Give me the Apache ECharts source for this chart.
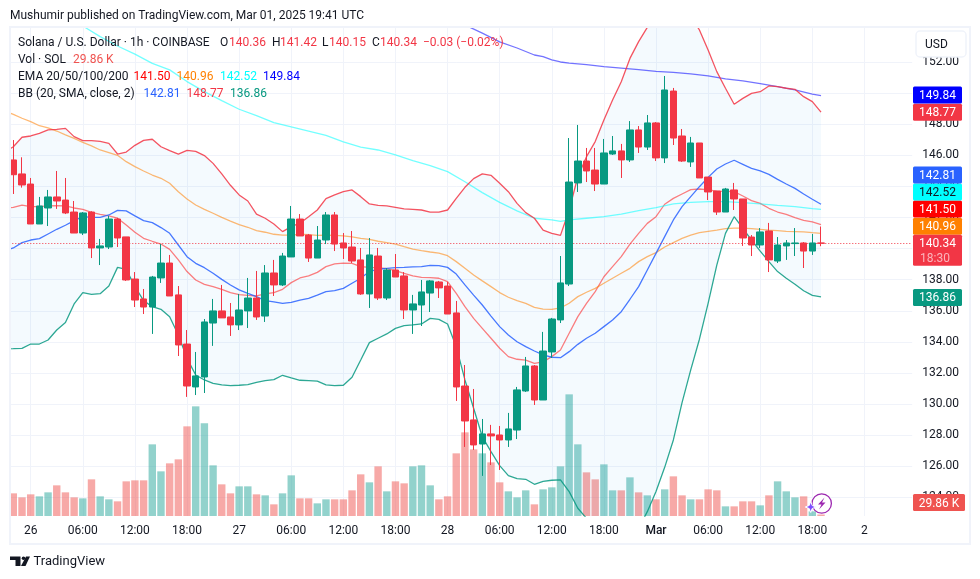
<!DOCTYPE html>
<html>
<head>
<meta charset="utf-8">
<style>html,body{margin:0;padding:0;background:#fff}#main{width:980px;height:579px}</style>
<script src="https://cdn.jsdelivr.net/npm/echarts@6/dist/echarts.min.js"></script>
</head>
<body>
<div id="main"></div>
<script>
// bars start at 25 Feb 21:00 (that one sits under the left edge), one per hour, [open, close, low, high]
var candles=[
[146.30,145.70,145.30,146.90],
[145.70,144.75,143.51,146.98],[144.80,144.09,143.92,145.87],[144.15,141.58,141.58,144.54],[141.58,142.74,141.58,143.32],
[142.61,143.32,141.45,143.77],[143.32,143.06,142.55,144.99],[143.12,142.29,142.22,144.54],[142.35,141.00,141.00,143.06],
[141.00,142.29,140.87,142.35],[142.35,140.04,139.39,142.40],[140.04,140.17,138.94,140.62],[140.10,141.90,139.97,142.10],
[141.90,140.68,140.10,141.97],[140.75,137.98,137.92,140.75],[138.04,136.69,136.24,138.49],[136.76,136.24,135.79,137.40],
[136.24,138.17,134.51,138.24],[138.11,139.07,137.79,140.29],[139.07,136.95,136.95,139.59],[137.02,133.80,133.09,137.59],
[133.86,131.16,130.46,134.76],[131.10,131.81,130.58,133.35],[131.74,135.28,130.71,135.47],[135.21,135.99,133.74,136.76],
[135.99,135.54,135.54,137.66],[135.60,135.09,134.38,136.50],[135.09,136.05,134.76,137.08],[135.99,136.82,134.89,138.11],
[136.82,135.60,135.41,138.56],[135.66,138.43,135.28,138.94],[138.43,137.66,136.95,139.27],[137.66,139.52,137.59,139.72],
[139.46,141.90,139.46,142.74],[141.90,140.81,140.81,142.22],[140.87,139.39,139.14,140.94],[139.39,140.55,139.39,141.45],
[140.55,142.16,140.29,142.35],[142.16,140.29,139.84,142.35],[140.36,140.04,139.33,141.00],[140.10,139.20,139.07,141.13],
[139.27,137.08,137.02,140.04],[137.08,139.59,136.18,140.68],[139.52,136.82,136.69,140.04],[136.82,138.62,136.69,138.75],
[138.62,138.17,138.17,139.65],[138.24,136.05,135.47,138.49],[136.05,136.44,134.51,137.02],[136.37,137.21,135.02,137.98],
[137.14,137.92,135.92,137.98],[137.85,137.47,136.82,137.92],[137.59,135.79,135.79,137.85],[135.86,131.10,130.20,136.63],
[131.16,128.91,127.24,132.51],[128.98,127.37,127.05,130.97],[127.43,128.08,125.38,129.04],[128.08,127.95,126.08,128.66],
[128.01,127.69,125.76,128.59],[127.69,128.40,127.24,129.43],[128.33,130.91,127.75,131.10],[130.84,132.45,130.78,133.03],
[132.45,130.26,129.94,132.51],[130.26,133.41,130.26,134.64],[133.35,135.47,132.96,135.54],[135.41,137.79,135.21,139.52],
[137.72,144.28,137.59,147.11],[144.22,145.63,143.64,147.95],[145.63,144.99,144.28,146.47],[145.05,144.15,143.70,146.47],
[144.15,146.15,144.15,147.05],[146.08,146.28,146.02,147.24],[146.28,145.70,144.54,146.73],[145.70,147.63,145.57,148.20],
[147.63,146.53,146.15,147.88],[146.53,148.08,146.34,148.59],[148.08,145.83,145.63,148.14],[145.83,150.20,145.50,151.10],
[150.13,147.11,146.66,150.33],[147.24,145.63,145.57,147.69],[145.57,146.79,145.25,147.18],[146.79,144.54,144.54,146.79],
[144.60,143.64,143.12,144.60],[143.70,142.35,142.16,143.70],[142.35,143.83,142.35,143.90],[143.77,143.19,142.48,144.22],
[143.19,140.68,140.17,143.19],[140.74,140.23,139.52,140.87],[140.23,141.07,140.04,141.32],[141.13,139.27,138.49,141.65],
[139.20,140.23,139.07,140.74],[140.17,140.36,139.27,140.55],[140.32,140.36,139.52,141.32],[140.36,139.84,138.75,140.42],
[139.84,140.36,139.59,140.94],[140.36,140.34,140.15,141.42]
]
// volume in thousands of SOL
var volumes=[400,453,373,433,393,473,613,473,373,353,733,393,333,293,693,713,713,1433,893,1053,1133,1793,2193,1853,1013,633,453,593,593,433,413,233,453,813,353,353,253,333,333,333,513,833,673,993,493,693,653,993,1013,613,333,393,1253,1673,1333,1253,1073,673,493,373,513,233,533,573,993,2433,1433,873,733,1033,513,513,773,473,413,333,533,793,413,333,333,533,513,193,193,293,293,213,413,693,493,373,393,93,30]

var bbUpper=[146.20,146.55,147.16,147.24,147.41,147.63,147.67,147.73,147.20,146.94,146.94,146.90,146.77,146.08,146.21,146.64,146.96,147.03,146.55,146.30,146.08,146.32,146.25,145.98,145.48,144.80,144.07,143.45,143.06,142.22,141.95,141.58,141.09,141.41,141.63,142.05,142.48,143.21,143.45,143.66,143.77,143.34,142.87,142.78,142.74,142.65,142.55,142.52,142.48,142.35,142.35,142.48,143.23,143.94,144.50,144.80,144.71,144.20,143.66,142.91,142.31,141.95,141.19,140.98,140.85,142.48,144.62,145.91,146.88,148.27,149.55,150.73,152.23,153.31,154.23,154.9,155,155,155,154.9,154.06,152.77,151.38,150.31,149.28,149.66,149.98,150.09,150.46,150.41,150.31,150.24,149.77,149.45,148.78]
var bbBasis=[139.85,140.04,140.38,140.55,140.64,140.94,141.24,141.50,141.80,142.05,142.01,142.01,142.16,142.46,142.42,142.10,141.80,141.67,141.35,140.98,140.23,139.48,139.05,138.77,138.41,138.02,137.66,137.34,137.12,136.91,136.65,136.57,136.48,136.54,136.69,136.80,137.01,137.23,137.29,137.44,137.77,138.09,138.52,138.67,138.73,138.77,138.79,138.82,138.84,138.92,138.90,138.79,138.36,137.66,137.01,136.37,135.66,134.98,134.44,134.01,133.69,133.41,133.16,133.01,132.98,133.37,133.84,134.23,134.55,134.98,135.41,135.94,136.74,137.55,138.62,139.69,140.77,141.84,142.70,143.34,143.98,144.58,145.12,145.44,145.68,145.42,145.16,144.99,144.77,144.45,144.15,143.87,143.51,143.17,142.85]
var bbLower=[133.55,133.56,133.58,133.86,133.86,134.12,134.76,135.24,136.44,137.17,137.06,137.10,137.59,138.79,138.66,137.55,136.65,136.26,136.09,135.62,134.44,132.94,131.87,131.55,131.33,131.23,131.18,131.21,131.25,131.40,131.51,131.57,131.85,131.68,131.53,131.51,131.48,131.23,131.18,131.21,131.72,132.83,133.95,134.23,134.51,134.87,135.04,135.09,135.15,135.51,135.45,135.15,133.69,131.55,129.73,127.90,126.94,126.04,125.40,125.20,125.16,124.84,125.03,125.10,125.12,124.37,123.30,122.65,122.3,122.0,121.8,121.8,122.1,122.0,123.08,124.37,125.93,127.69,130.09,132.2,134.17,136.48,138.94,140.98,142.05,141.30,140.55,139.84,139.16,138.52,138.09,137.70,137.29,136.99,136.89]
var ema20=[142.60,142.65,142.80,142.70,142.70,142.74,142.76,142.74,142.61,142.52,142.33,142.20,142.10,141.95,141.52,141.05,140.66,140.47,140.29,139.95,139.27,138.52,137.98,137.70,137.55,137.38,137.16,137.04,136.99,136.95,137.08,137.16,137.38,137.81,138.11,138.24,138.47,138.84,139.01,139.07,139.05,138.84,138.79,138.77,138.71,138.58,138.41,138.24,138.15,138.13,138.09,137.87,137.12,136.26,135.51,134.87,134.23,133.59,133.05,132.88,132.83,132.62,132.71,133.05,133.48,134.55,135.62,136.48,137.23,138.19,138.84,139.48,140.29,140.98,141.62,142.05,142.85,143.23,143.51,143.79,143.83,143.77,143.70,143.68,143.66,143.38,143.08,142.91,142.59,142.35,142.20,141.99,141.82,141.71,141.54]
var ema50=[148.85,148.63,148.38,148.16,147.90,147.76,147.56,147.31,147.09,146.83,146.60,146.34,146.17,146.00,145.59,145.27,144.99,144.73,144.52,144.20,143.66,143.19,142.80,142.52,142.27,142.01,141.77,141.54,141.37,141.15,141.05,140.92,140.87,140.87,140.92,140.90,140.85,140.87,140.85,140.81,140.75,140.66,140.59,140.47,140.38,140.29,140.12,139.97,139.87,139.78,139.70,139.54,139.16,138.73,138.30,137.92,137.55,137.17,136.87,136.65,136.48,136.22,136.11,136.09,136.18,136.48,136.91,137.19,137.44,137.77,138.09,138.41,138.73,139.16,139.48,139.74,140.10,140.38,140.66,140.87,141.02,141.11,141.19,141.28,141.32,141.32,141.28,141.24,141.19,141.15,141.11,141.09,141.07,141.02,140.98]
// these two read every other bar, [hours since 26 Feb 00:00, price]
var ema100=[[6,154.31],[8,153.63],[10,153.03],[12,152.51],[14,151.91],[16,151.49],[18,150.74],[20,150.09],[22,149.51],[24,148.96],[26,148.55],[28,148.10],[30,147.82],[32,147.56],[34,147.28],[36,146.86],[38,146.53],[40,146.34],[42,146.02],[44,145.65],[46,145.33],[48,144.95],[50,144.30],[52,143.60],[54,142.97],[56,142.42],[58,141.95],[60,141.84],[61,141.75],[62,141.84],[64,141.95],[66,142.05],[68,142.22],[70,142.44],[72,142.63],[74,142.87],[76,142.97],[78,143.02],[80,143.02],[82,142.95],[84,142.87],[86,142.78],[88,142.70],[90,142.57],[91,142.52]]
var ema200=[[50,154.38],[52,153.86],[54,153.29],[56,152.90],[58,152.45],[59,152.34],[60,152.13],[61,152.00],[62,151.93],[64,151.83],[66,151.70],[68,151.61],[70,151.51],[72,151.40],[74,151.33],[76,151.23],[78,151.10],[80,150.91],[82,150.78],[84,150.61],[86,150.41],[88,150.20],[90,149.94],[91,149.83]]

var priceTicks=[124,126,128,130,132,134,136,138,140,142,144,146,148,150,152]
var timeTicks=['26','06:00','12:00','18:00','27','06:00','12:00','18:00','28','06:00','12:00','18:00','Mar','06:00','12:00','18:00','2']
var lastPrice=140.34

var fontName='Roboto'
var ink='#131722'
var upCol='#089981',downCol='#f23645'
var firstHour=-3, barCount=105

// one category per hour, ticks every 6h
var cats=[]
for(var k=0;k<barCount;k++){
	var h=k+firstHour
	cats.push(h>=0&&h%6==0&&timeTicks[h/6]?timeTicks[h/6]+'#'+k:'h'+k)
}
function isTick(i,v){return v.charAt(0)!='h'}

var volData=[]
for(var n=0;n<volumes.length;n++){
	var dn=candles[n][1]<candles[n][0]
	volData.push({value:volumes[n],itemStyle:{color:dn?'rgba(239,83,80,.5)':'rgba(38,166,154,.5)'}})
}

function lineOf(name,data,color,op){
	return {name:name,type:'line',data:data,symbol:'none',silent:true,z:3,
		lineStyle:{color:color,width:1.3,opacity:op},animation:false}
}
function shift(arr){return arr.map(function(p){return [p[0]-firstHour,p[1]]})}

var chart=echarts.init(document.getElementById('main'),null,{renderer:'canvas'})
chart.setOption({
	animation:false,
	textStyle:{fontFamily:fontName},
	grid:{left:0.3,top:27,width:911.9,height:489,containLabel:false},
	xAxis:{type:'category',data:cats,boundaryGap:true,
		axisLine:{show:false},axisTick:{show:false},
		axisLabel:{interval:isTick,color:ink,fontSize:12,margin:9,hideOverlap:false,
			formatter:function(v){var t=v.split('#')[0];return t=='Mar'?'{b|Mar}':t},
			rich:{b:{fontWeight:500,fontSize:12,color:ink}}},
		splitLine:{show:true,interval:isTick,alignWithLabel:true,lineStyle:{color:'#f0f3fa',width:1}}},
	yAxis:[
		{type:'value',position:'right',min:122.8,max:154.25,
			axisLine:{show:false},axisTick:{show:false,customValues:priceTicks},
			axisLabel:{customValues:priceTicks,color:ink,fontSize:12,margin:10,padding:[3,0,0,0],formatter:function(v){return v.toFixed(2)}},
			splitLine:{show:true,lineStyle:{color:'#f0f3fa',width:1}}},
		{type:'value',min:0,max:9780,show:false}
	],
	series:[
		{name:'Vol',type:'bar',yAxisIndex:1,data:volData,barWidth:7.4,z:1,silent:true},
		{name:'BB fill',type:'custom',z:2,silent:true,clip:true,data:[0],
			renderItem:function(params,api){
				var pts=[],m
				for(m=0;m<bbUpper.length;m++)pts.push(api.coord([m,bbUpper[m]]))
				for(m=bbLower.length-1;m>=0;m--)pts.push(api.coord([m,bbLower[m]]))
				return {type:'polygon',shape:{points:echarts.graphic.clipPointsByRect(pts,params.coordSys)},
					style:{fill:'rgba(33,150,243,.05)'}}
			}},
		lineOf('EMA 20',ema20,'#ff0000',.5),
		lineOf('EMA 50',ema50,'#ff8000',.55),
		lineOf('EMA 100',shift(ema100),'#00ffff',.55),
		lineOf('EMA 200',shift(ema200),'#0000ff',.55),
		lineOf('BB upper',bbUpper,'#f23645',.85),
		lineOf('BB basis',bbBasis,'#2962ff',.85),
		lineOf('BB lower',bbLower,'#089981',.85),
		{name:'SOL',type:'candlestick',data:candles,barWidth:7,z:5,silent:true,
			itemStyle:{color:upCol,color0:downCol,borderColor:upCol,borderColor0:downCol,borderWidth:1},
			markLine:{silent:true,symbol:'none',label:{show:false},animation:false,
				lineStyle:{color:downCol,type:[1,2],width:1},data:[{yAxis:lastPrice}]}}
	]
})

// overlay: header, legend rows, price tags
function txt(x,y,s,col,size,extra){
	var st={text:s,fill:col||ink,font:(size||12)+'px '+fontName,textVerticalAlign:'middle'}
	for(var q in extra)st[q]=extra[q]
	return {type:'text',x:x,y:y+1,z:100,silent:true,style:st}
}
var els=[
	// hides the bar that falls left of the pane
	{type:'rect',z:80,silent:true,shape:{x:0,y:20,width:9.5,height:510},style:{fill:'#fff'}},
	{type:'rect',z:90,silent:true,shape:{x:10,y:27,width:960,height:517},style:{fill:'none',stroke:'#f0f3fa',lineWidth:2}},
	txt(10,14.5,'Mushumir published on TradingView.com, Mar 01, 2025 19:41 UTC'),
	txt(18,42,'Solana / U.S. Dollar · 1h · COINBASE'),
	txt(220,42,'O'),txt(229,42,'140.36',downCol),
	txt(272,42,'H'),txt(280,42,'141.42',downCol),
	txt(322,42,'L'),txt(329,42,'140.15',downCol),
	txt(372,42,'C'),txt(380,42,'140.34',downCol),
	txt(423,42,'−0.03 (−0.02%)',downCol),
	txt(18,59,'Vol · SOL'),txt(73,59,'29.86 K','#ef5350'),
	txt(18,76,'EMA 20/50/100/200'),
	txt(133.5,76,'141.50','#ff0000'),txt(176.5,76,'140.96','#ff8000'),txt(220,76,'142.52','#00ffff'),txt(263,76,'149.84','#0000ff'),
	txt(18,93,'BB (20, SMA, close, 2)'),
	txt(143.5,93,'142.81','#2962ff'),txt(186.5,93,'148.77','#f23645'),txt(230,93,'136.86','#089981'),
	// USD button
	{type:'rect',z:95,silent:true,shape:{x:916,y:31,width:50,height:26,r:4},style:{fill:'#fff',stroke:'#f0f3fa',lineWidth:1.5}},
	txt(925,44,'USD'),
	// logo
	{type:'polygon',z:100,silent:true,shape:{points:[[10,556.5],[20.5,556.5],[20.5,566],[15.5,566],[15.5,560],[10,560]]},style:{fill:ink}},
	{type:'circle',z:100,silent:true,shape:{cx:23.5,cy:558.3,r:1.8},style:{fill:ink}},
	{type:'polygon',z:100,silent:true,shape:{points:[[26,556.5],[30,556.5],[25.5,566],[21,566]]},style:{fill:ink}},
	txt(33.5,561,'TradingView',ink,13),
	// bolt badge
	{type:'circle',z:100,silent:true,shape:{cx:821.7,cy:503.5,r:9.7},style:{fill:'#fff',stroke:'#9c27b0',lineWidth:1.3}},
	{type:'polygon',z:101,silent:true,shape:{points:[[824.5,497.5],[818,504.5],[821.5,504.5],[819,509.5],[825.5,502.5],[822,502.5]]},style:{fill:'#9c27b0'}},
	{type:'polygon',z:102,silent:true,shape:{points:[[810.7,501.5],[812.2,505.5],[816.2,507],[812.2,508.5],[810.7,512.5],[809.2,508.5],[805.2,507],[809.2,505.5]]},style:{fill:'#7c4dff',stroke:'#fff',lineWidth:1}}
]

function tag(cy,h,bg,col,s,w){
	els.push({type:'rect',z:98,silent:true,shape:{x:913,y:cy-h/2,width:w||49,height:h,r:1.5},style:{fill:bg}})
	els.push(txt(913+(w||49)/2,cy,s,col,12,{textAlign:'center'}))
}
var tagList=[
	{v:140.96,bg:'#ff8000',c:'#fff'},{v:141.50,bg:'#ff0000',c:'#fff'},{v:142.52,bg:'#00ffff',c:ink},
	{v:142.81,bg:'#2962ff',c:'#fff'},{v:148.77,bg:'#f23645',c:'#fff'},{v:149.84,bg:'#0000ff',c:'#fff'}
]
// tags pile upward when they would collide, same as the price scale does
var lastY=chart.convertToPixel({yAxisIndex:0},lastPrice)
var prevY=lastY
for(var t=0;t<tagList.length;t++){
	var ty=Math.min(chart.convertToPixel({yAxisIndex:0},tagList[t].v),prevY-17.1)
	tag(ty,17,tagList[t].bg,tagList[t].c,tagList[t].v.toFixed(2))
	prevY=ty
}
els.push({type:'rect',z:98,silent:true,shape:{x:913,y:lastY-8.5,width:49,height:31,r:1.5},style:{fill:downCol}})
els.push(txt(937.5,lastY,lastPrice.toFixed(2),'#fff',12,{textAlign:'center'}))
els.push(txt(935,lastY+14.3,'18:30','#fbb5bc',12,{textAlign:'center'}))
tag(chart.convertToPixel({yAxisIndex:0},136.86),17,'#089981','#fff','136.86')
tag(502.5,17,'#ef5350','#fff','29.86 K',52)
chart.setOption({graphic:{elements:els}})
</script>
</body>
</html>
